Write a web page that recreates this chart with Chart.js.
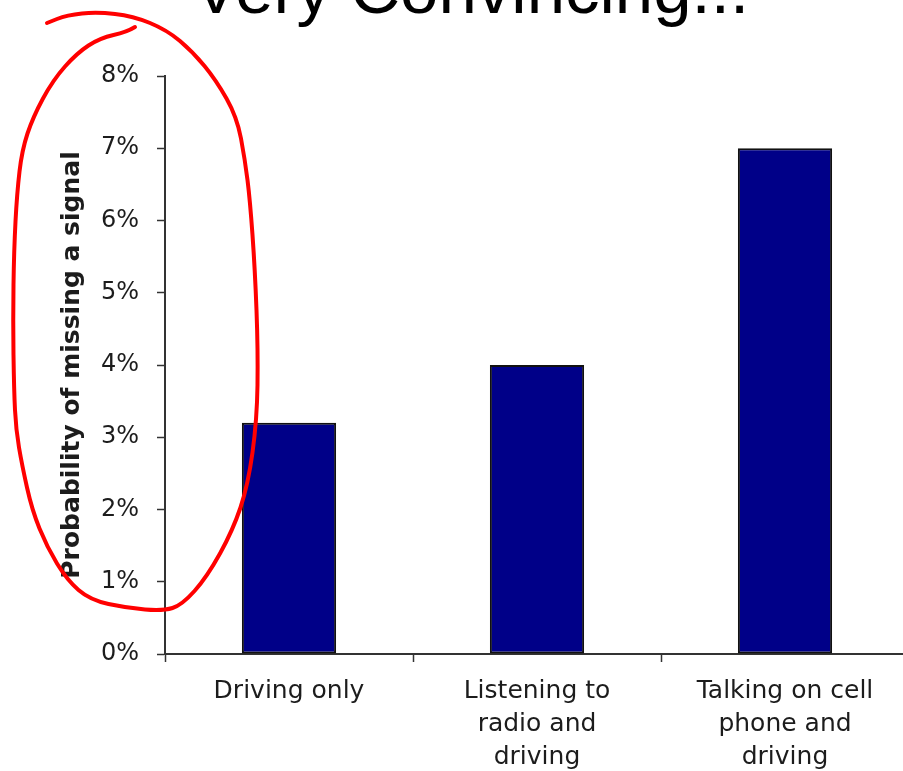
<!DOCTYPE html>
<html>
<head>
<meta charset="utf-8">
<script src="https://cdn.jsdelivr.net/npm/chart.js@4/dist/chart.umd.min.js"></script>
<style>
  html, body { margin: 0; padding: 0; background: #fff; overflow: hidden; }
  #wrap { width: 903px; height: 771px; overflow: hidden; }
</style>
</head>
<body>
<div id="wrap"><canvas id="chart" width="909" height="771"></canvas></div>
<script>
const categories = [
    ['Driving only'],
    ['Listening to', 'radio and', 'driving'],
    ['Talking on cell', 'phone and', 'driving']
];
const missProbability = [3.2, 4.0, 7.0];   // percent
const yTicks = [0, 1, 2, 3, 4, 5, 6, 7, 8];

const slideTitle = 'Very Convincing...';
const yTitle = 'Probability of missing a signal';

// hand drawn red loop around the axis title (pen stroke points)
const penStroke = [
    [135, 27], [127, 32], [100, 38], [77, 53], [53, 80], [33, 117], [22, 150],
    [17, 193], [14, 250], [13, 320], [14, 390], [16, 430], [22, 465], [32, 510],
    [47, 547], [67, 580], [90, 600], [127, 608], [163, 611], [182, 605],
    [207, 577], [233, 530], [248, 485], [257, 420], [258, 350], [255, 270],
    [250, 200], [245, 160], [237, 117], [216, 80], [193, 52], [167, 30],
    [133, 16], [97, 12], [67, 15], [47, 23]
];

const decorations = {
    id: 'decorations',
    beforeDraw(chart) {
        const ctx = chart.ctx;
        ctx.save();
        ctx.fillStyle = '#000';
        ctx.font = '69px "Liberation Sans", Arial, sans-serif';
        ctx.textAlign = 'left';
        ctx.textBaseline = 'alphabetic';
        ctx.fillText(slideTitle, 193, 13);
        ctx.restore();
    },
    afterDraw(chart) {
        const ctx = chart.ctx;
        ctx.save();
        ctx.strokeStyle = '#ff0000';
        ctx.lineWidth = 4;
        ctx.lineCap = 'round';
        ctx.lineJoin = 'round';
        ctx.beginPath();
        ctx.moveTo(penStroke[0][0], penStroke[0][1]);
        for (let i = 1; i < penStroke.length - 1; i++) {
            const mx = (penStroke[i][0] + penStroke[i + 1][0]) / 2;
            const my = (penStroke[i][1] + penStroke[i + 1][1]) / 2;
            ctx.quadraticCurveTo(penStroke[i][0], penStroke[i][1], mx, my);
        }
        const last = penStroke[penStroke.length - 1];
        ctx.lineTo(last[0], last[1]);
        ctx.stroke();
        ctx.restore();
    }
};

const ink = '#1c1c1c';
const face = '"DejaVu Sans", Verdana, sans-serif';

new Chart(document.getElementById('chart'), {
    type: 'bar',
    data: {
        labels: categories,
        datasets: [{
            data: missProbability,
            backgroundColor: '#000088',
            borderColor: '#111',
            borderWidth: 2,
            borderSkipped: false,
            categoryPercentage: 1,
            barPercentage: 0.38
        }]
    },
    options: {
        responsive: false,
        animation: false,
        events: [],
        layout: { padding: { top: 76, left: 0, right: 0, bottom: 0 } },
        plugins: {
            legend: { display: false },
            tooltip: { enabled: false }
        },
        scales: {
            x: {
                grid: {
                    offset: true,
                    drawOnChartArea: false,
                    drawTicks: true,
                    tickLength: 8,
                    tickColor: '#333',
                    tickWidth: 1.5
                },
                border: { color: '#333', width: 2 },
                ticks: {
                    color: ink,
                    padding: 13,
                    maxRotation: 0,
                    autoSkip: false,
                    font: { family: face, size: 25, lineHeight: 1.32 }
                },
                afterFit(scale) { scale.height = 771 - 654; }
            },
            y: {
                min: 0,
                max: 8,
                afterBuildTicks(scale) { scale.ticks = yTicks.map(v => ({ value: v })); },
                grid: {
                    drawOnChartArea: false,
                    drawTicks: true,
                    tickLength: 8,
                    tickColor: '#333',
                    tickWidth: 1.5
                },
                border: { color: '#333', width: 2 },
                ticks: {
                    color: ink,
                    padding: 18,
                    callback: v => v + '%',
                    font: { family: face, size: 24 }
                },
                title: {
                    display: true,
                    text: yTitle,
                    color: ink,
                    padding: { top: 57, bottom: 0 },
                    font: { family: face, size: 25, weight: 'bold' }
                },
                afterFit(scale) { scale.width = 165; }
            }
        }
    },
    plugins: [decorations]
});
</script>
</body>
</html>
